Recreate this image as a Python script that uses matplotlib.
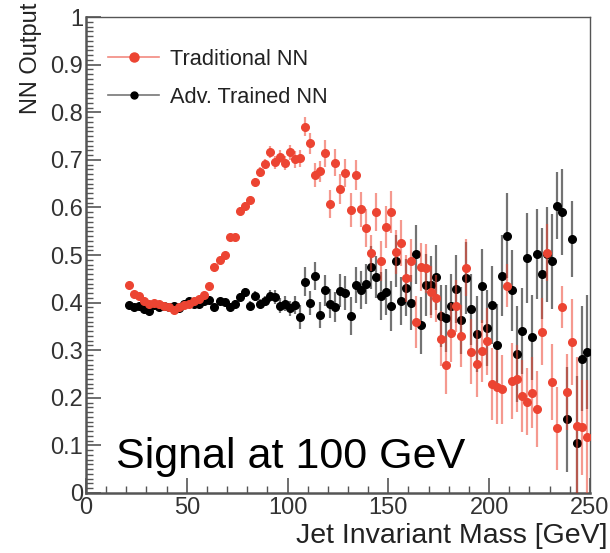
import numpy as np
import matplotlib
matplotlib.use("Agg")
import matplotlib.pyplot as plt
from matplotlib.ticker import MultipleLocator, FixedFormatter, FixedLocator
from matplotlib.lines import Line2D

plt.rcParams['font.family'] = ['Liberation Sans', 'DejaVu Sans']

# bin centres (2.5 GeV bins from 20 to 250 GeV)
mass = np.arange(21.25, 250, 2.5)

# Traditional NN (red)
trad = [0.438, 0.418, 0.415, 0.403, 0.398, 0.400, 0.397, 0.393, 0.390, 0.385,
        0.390, 0.395, 0.398, 0.403, 0.408, 0.417, 0.435, 0.475, 0.490, 0.500,
        0.538, 0.538, 0.593, 0.603, 0.616, 0.654, 0.675, 0.691, 0.717, 0.695,
        0.707, 0.694, 0.716, 0.701, 0.703, 0.770, 0.735, 0.668, 0.676, 0.714,
        0.607, 0.694, 0.639, 0.672, 0.595, 0.668, 0.596, 0.557, 0.504, 0.591,
        0.488, 0.559, 0.590, 0.506, 0.526, 0.451, 0.488, 0.360, 0.475, 0.472,
        0.423, 0.409, 0.324, 0.269, 0.337, 0.393, 0.330, 0.473, 0.297, 0.272,
        0.298, 0.319, 0.229, 0.222, 0.218, 0.436, 0.236, 0.240, 0.204, 0.192,
        0.211, 0.176, 0.339, 0.505, 0.234, 0.136, 0.391, 0.213, 0.318, 0.141,
        0.138, 0.118]
trad_err = [0.003, 0.003, 0.003, 0.003, 0.003, 0.003, 0.003, 0.003, 0.003, 0.003,
            0.003, 0.003, 0.003, 0.004, 0.004, 0.005, 0.005, 0.005, 0.006, 0.006,
            0.006, 0.007, 0.007, 0.008, 0.008, 0.009, 0.010, 0.010, 0.012, 0.014,
            0.014, 0.015, 0.016, 0.017, 0.018, 0.020, 0.022, 0.025, 0.022, 0.028,
            0.030, 0.028, 0.032, 0.030, 0.035, 0.032, 0.036, 0.040, 0.038, 0.040,
            0.042, 0.045, 0.044, 0.046, 0.048, 0.050, 0.045, 0.055, 0.050, 0.052,
            0.055, 0.050, 0.058, 0.060, 0.062, 0.055, 0.065, 0.060, 0.068, 0.070,
            0.065, 0.070, 0.075, 0.078, 0.072, 0.045, 0.080, 0.070, 0.075, 0.070,
            0.075, 0.080, 0.070, 0.060, 0.080, 0.087, 0.045, 0.080, 0.090, 0.145,
            0.100, 0.120]

# Adversarially trained NN (black)
adv = [0.395, 0.390, 0.393, 0.386, 0.383, 0.395, 0.391, 0.392, 0.390, 0.392,
       0.388, 0.398, 0.403, 0.398, 0.397, 0.404, 0.405, 0.390, 0.404, 0.402,
       0.391, 0.398, 0.412, 0.422, 0.394, 0.414, 0.398, 0.404, 0.414, 0.412,
       0.394, 0.398, 0.388, 0.395, 0.370, 0.444, 0.400, 0.456, 0.374, 0.426,
       0.398, 0.391, 0.425, 0.421, 0.372, 0.437, 0.426, 0.440, 0.474, 0.454,
       0.414, 0.422, 0.393, 0.488, 0.404, 0.431, 0.400, 0.502, 0.352, 0.437,
       0.437, 0.453, 0.372, 0.367, 0.393, 0.429, 0.363, 0.452, 0.386, 0.334,
       0.435, 0.346, 0.395, 0.312, 0.457, 0.541, 0.426, 0.292, 0.341, 0.494,
       0.327, 0.502, 0.461, 0.502, 0.487, 0.604, 0.591, 0.155, 0.533, 0.106,
       0.282, 0.296]
adv_err = [0.003, 0.003, 0.003, 0.003, 0.003, 0.003, 0.003, 0.003, 0.003, 0.003,
           0.003, 0.004, 0.004, 0.004, 0.004, 0.005, 0.005, 0.005, 0.006, 0.006,
           0.006, 0.007, 0.008, 0.008, 0.009, 0.010, 0.010, 0.011, 0.012, 0.014,
           0.015, 0.016, 0.016, 0.018, 0.025, 0.030, 0.025, 0.030, 0.028, 0.032,
           0.030, 0.032, 0.035, 0.036, 0.040, 0.038, 0.040, 0.042, 0.045, 0.045,
           0.050, 0.048, 0.052, 0.055, 0.050, 0.060, 0.058, 0.062, 0.060, 0.065,
           0.062, 0.068, 0.065, 0.070, 0.068, 0.072, 0.070, 0.075, 0.075, 0.080,
           0.078, 0.080, 0.082, 0.085, 0.085, 0.090, 0.085, 0.100, 0.090, 0.095,
           0.090, 0.095, 0.095, 0.100, 0.100, 0.070, 0.090, 0.110, 0.080, 0.140,
           0.110, 0.120]

ylabels = ['0', '0.1', '0.2', '0.3', '0.4', '0.5', '0.6', '0.7', '0.8', '0.9', '1']

red = '#ec4432'

fig = plt.figure(figsize=(6.10, 5.53), dpi=100)
ax = fig.add_axes([0.141, 0.1085, 0.826, 0.8605])

ax.errorbar(mass, adv, yerr=adv_err, fmt='o', color='black', ms=5.5,
            ecolor=(0, 0, 0, 0.55), elinewidth=1.6, capsize=0, zorder=3)
ax.errorbar(mass, trad, yerr=trad_err, fmt='o', color=red, ms=5.5,
            ecolor=(0.93, 0.27, 0.2, 0.55), elinewidth=1.6, capsize=0, zorder=4)

ax.set_xlim(0, 250)
ax.set_ylim(0, 1)

ax.xaxis.set_major_locator(MultipleLocator(50))
ax.xaxis.set_minor_locator(MultipleLocator(10))
ax.yaxis.set_major_locator(FixedLocator(np.arange(0, 1.01, 0.1)))
ax.yaxis.set_major_formatter(FixedFormatter(ylabels))
ax.yaxis.set_minor_locator(MultipleLocator(0.01))

ax.tick_params(which='both', direction='in', top=False, right=False,
               colors='#555555', labelcolor='#333333', labelsize=17)
ax.tick_params(which='major', length=10.5, width=1.2, pad=2)
ax.tick_params(which='minor', length=5, width=1.0)
ax.tick_params(axis='x', pad=3)

for side in ['left', 'bottom']:
    ax.spines[side].set_color('#555555')
    ax.spines[side].set_linewidth(1.8)
for side in ['top', 'right']:
    ax.spines[side].set_color('#555555')
    ax.spines[side].set_linewidth(1.0)

ax.set_xlabel('Jet Invariant Mass [GeV]', fontsize=20.5, color='#222222', loc='right')
ax.xaxis.set_label_coords(1.034, -0.062)
ax.set_ylabel('NN Output', fontsize=17, color='#222222', loc='top')
ax.yaxis.set_label_coords(-0.088, 1.03)

# legend: line + marker handles like ROOT's "lp" entries
handles = [Line2D([], [], color='#f28a80', marker='o', ms=6.5, mfc=red, mec=red, lw=1.2),
           Line2D([], [], color='#777777', marker='o', ms=5, mfc='black', mec='black', lw=1.2)]
ax.legend(handles, ['Traditional NN', 'Adv. Trained NN'], loc='upper left',
          bbox_to_anchor=(0.044, 0.933), frameon=False, fontsize=15.7,
          borderpad=0, borderaxespad=0,
          handlelength=2.35, handletextpad=0.5, labelspacing=0.78, labelcolor='#222222')

ax.text(0.06, 0.0525, 'Signal at 100 GeV', transform=ax.transAxes,
        fontsize=31, color='black', va='baseline')

fig.savefig('out.png', dpi=100)
